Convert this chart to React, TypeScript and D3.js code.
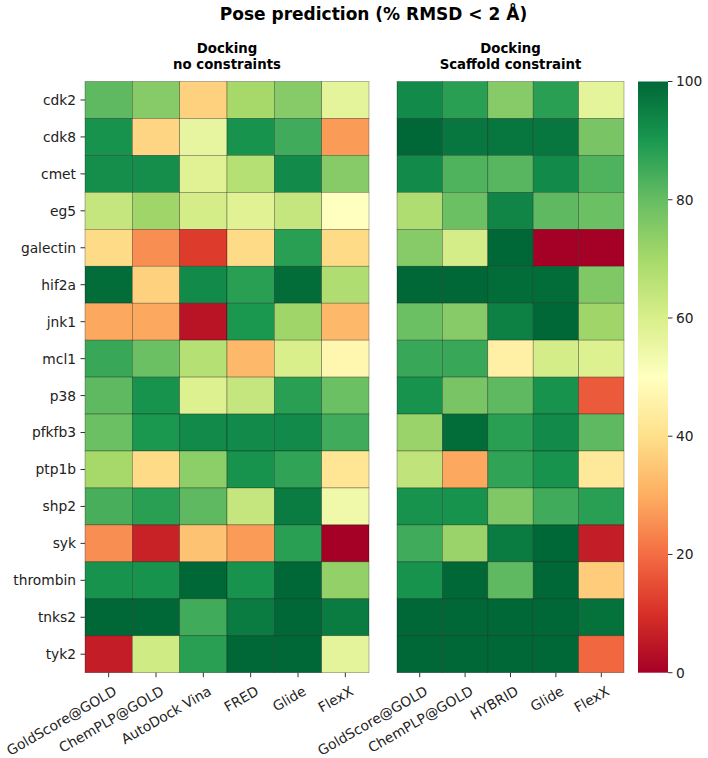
import React from "react";
import * as d3 from "d3";

const targets = ["cdk2","cdk8","cmet","eg5","galectin","hif2a","jnk1","mcl1","p38","pfkfb3","ptp1b","shp2","syk","thrombin","tnks2","tyk2"];

const leftMethods = ["GoldScore@GOLD","ChemPLP@GOLD","AutoDock Vina","FRED","Glide","FlexX"];
const rightMethods = ["GoldScore@GOLD","ChemPLP@GOLD","HYBRID","Glide","FlexX"];

// no constraints (rows = targets, cols = leftMethods)
const leftValues = [
  [81, 75, 37, 70, 75, 57],
  [91, 38, 56, 91, 85, 27],
  [92, 92, 58, 67, 93, 75],
  [64, 71, 61, 58, 64, 50],
  [39, 25, 12, 39, 88, 39],
  [99, 37, 93, 88, 99, 68],
  [29, 29, 4, 90, 71, 32],
  [86, 79, 67, 32, 60, 47],
  [81, 91, 59, 64, 88, 79],
  [79, 90, 93, 93, 93, 85],
  [70, 39, 74, 91, 87, 42],
  [84, 88, 81, 64, 96, 54],
  [25, 7, 34, 27, 88, 0],
  [91, 91, 100, 91, 100, 73],
  [100, 100, 85, 96, 100, 96],
  [6, 62, 88, 100, 100, 57],
];

// scaffold constraint (rows = targets, cols = rightMethods)
const rightValues = [
  [93, 88, 75, 88, 57],
  [100, 97, 97, 97, 77],
  [93, 83, 82, 93, 83],
  [68, 79, 94, 81, 79],
  [75, 61, 100, 0, 0],
  [100, 100, 99, 99, 76],
  [79, 75, 95, 100, 71],
  [86, 86, 45, 61, 59],
  [91, 77, 81, 91, 17],
  [72, 99, 88, 93, 81],
  [65, 29, 87, 91, 43],
  [91, 91, 76, 85, 88],
  [85, 72, 96, 100, 6],
  [91, 100, 81, 100, 36],
  [100, 100, 100, 100, 98],
  [100, 100, 100, 100, 19],
];

const colorbarTicks = [0, 20, 40, 60, 80, 100];

const rdYlGn = ["#a50026","#d73027","#f46d43","#fdae61","#fee08b","#ffffbf","#d9ef8b","#a6d96a","#66bd63","#1a9850","#006837"];

const FONT = "DejaVu Sans, sans-serif";

export default function App() {
  const W = 708, H = 758;
  const top = 81.5, bottom = 672.7;
  const leftX0 = 85, leftX1 = 369;
  const rightX0 = 397, rightX1 = 624;
  const cbX0 = 638, cbX1 = 668;

  const color = d3.scaleLinear<string>()
    .domain(d3.range(0, 101, 10))
    .range(rdYlGn)
    .interpolate(d3.interpolateRgb)
    .clamp(true);

  const y = d3.scaleBand().domain(targets).range([top, bottom]).padding(0);
  const xL = d3.scaleBand().domain(leftMethods).range([leftX0, leftX1]).padding(0);
  const xR = d3.scaleBand().domain(rightMethods).range([rightX0, rightX1]).padding(0);
  const cbY = d3.scaleLinear().domain([0, 100]).range([bottom, top]);

  const fs = 13.8;

  const renderCells = (methods: string[], values: number[][], x: d3.ScaleBand<string>) =>
    targets.map((t, i) =>
      methods.map((m, j) => (
        <rect key={`${t}-${m}`} x={x(m)} y={y(t)} width={x.bandwidth()} height={y.bandwidth()}
          fill={color(values[i][j])} stroke="#000" strokeOpacity={0.45} strokeWidth={0.6} />
      ))
    );

  const renderXTicks = (methods: string[], x: d3.ScaleBand<string>) =>
    methods.map((m) => {
      const cx = (x(m) as number) + x.bandwidth() / 2;
      return (
        <g key={m}>
          <line x1={cx} x2={cx} y1={bottom} y2={bottom + 4.5} stroke="#333" strokeWidth={1} />
          <text transform={`translate(${cx + 4},${bottom + 12.5}) rotate(-30)`} textAnchor="end"
            dy="0.73em" fontFamily={FONT} fontSize={fs} fill="#222">{m}</text>
        </g>
      );
    });

  return (
    <svg width={W} height={H} style={{ position: "absolute", left: 0, top: 0, background: "#fff" }}>
      <defs>
        <linearGradient id="cbgrad" x1="0" y1="1" x2="0" y2="0">
          {rdYlGn.map((c, i) => (
            <stop key={i} offset={`${i * 10}%`} stopColor={c} />
          ))}
        </linearGradient>
      </defs>
      <rect x={0} y={0} width={W} height={H} fill="#fff" />
      <text x={373.5} y={20} textAnchor="middle" fontFamily={FONT} fontWeight="bold" fontSize={17} fill="#000">
        Pose prediction (% RMSD &lt; 2 Å)
      </text>
      <text x={(leftX0 + leftX1) / 2} textAnchor="middle" fontFamily={FONT} fontWeight="bold" fontSize={13.3} fill="#000">
        <tspan x={(leftX0 + leftX1) / 2} y={52.5}>Docking</tspan>
        <tspan x={(leftX0 + leftX1) / 2} y={68.5}>no constraints</tspan>
      </text>
      <text x={(rightX0 + rightX1) / 2} textAnchor="middle" fontFamily={FONT} fontWeight="bold" fontSize={13.3} fill="#000">
        <tspan x={(rightX0 + rightX1) / 2} y={52.5}>Docking</tspan>
        <tspan x={(rightX0 + rightX1) / 2} y={68.5}>Scaffold constraint</tspan>
      </text>

      {renderCells(leftMethods, leftValues, xL)}
      {renderCells(rightMethods, rightValues, xR)}

      {targets.map((t) => {
        const cy = (y(t) as number) + y.bandwidth() / 2;
        return (
          <g key={t}>
            <line x1={leftX0 - 4.5} x2={leftX0} y1={cy} y2={cy} stroke="#333" strokeWidth={1} />
            <text x={leftX0 - 9} y={cy} dy="0.36em" textAnchor="end" fontFamily={FONT} fontSize={fs} fill="#222">{t}</text>
          </g>
        );
      })}

      {renderXTicks(leftMethods, xL)}
      {renderXTicks(rightMethods, xR)}

      <rect x={cbX0} y={top} width={cbX1 - cbX0} height={bottom - top} fill="url(#cbgrad)" />
      {colorbarTicks.map((v) => (
        <g key={v}>
          <line x1={cbX1} x2={cbX1 + 4.5} y1={cbY(v)} y2={cbY(v)} stroke="#333" strokeWidth={1} />
          <text x={cbX1 + 8} y={cbY(v)} dy="0.36em" fontFamily={FONT} fontSize={fs} fill="#222">{v}</text>
        </g>
      ))}
    </svg>
  );
}
